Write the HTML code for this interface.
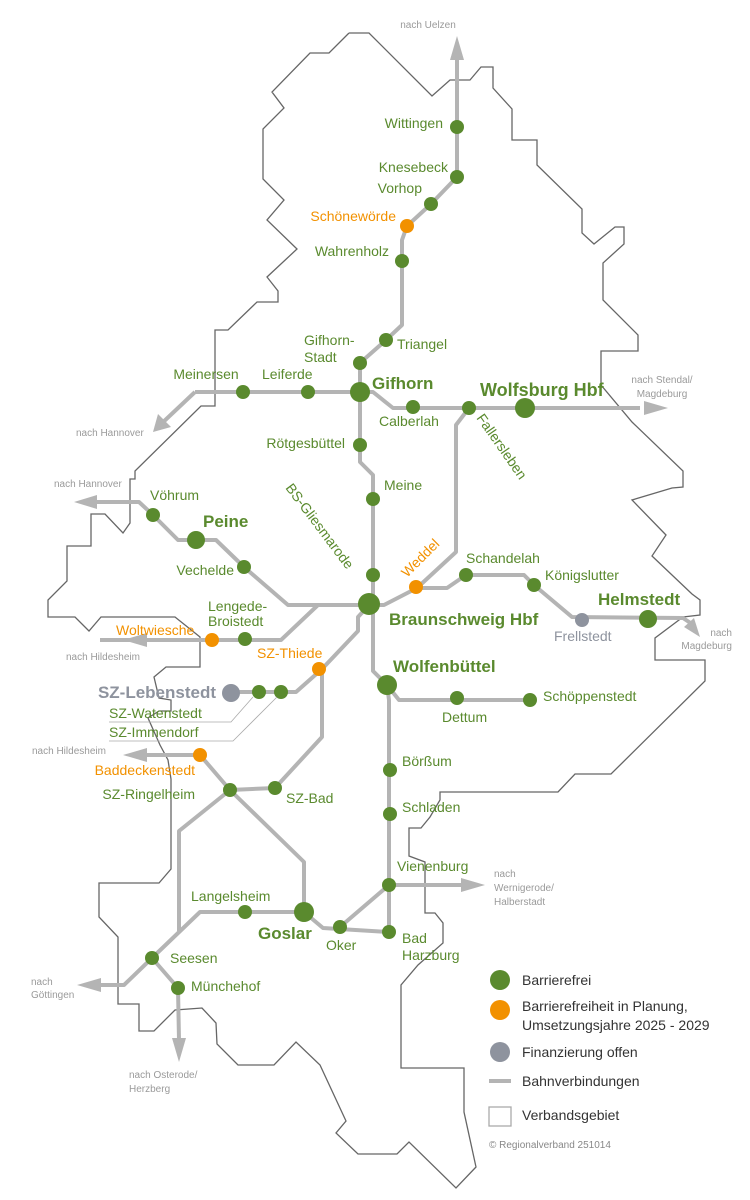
<!DOCTYPE html>
<html><head><meta charset="utf-8"><style>
html,body{margin:0;padding:0;background:#fff}
svg{display:block}
text{font-family:"Liberation Sans Narrow","Liberation Sans",sans-serif}
.g{fill:#5a8a2e}.o{fill:#f29100}.gr{fill:#8e939e}.s{fill:#9a9a9a;font-size:10px}
.t{font-size:14px}.b{font-size:17px;font-weight:bold}
</style></head><body>
<svg width="750" height="1200" viewBox="0 0 750 1200" xmlns="http://www.w3.org/2000/svg">
<!-- border -->
<polyline fill="none" stroke="#666" stroke-width="1.3" points="349,33 369,33 432,96 450,80 470,80 481,67 493,67 493,88 512,109 512,140 537,140 537,165 582,209 582,233 594,244 615,227 624,227 624,244 603,263 603,300 638,335 638,351 601,351 601,385 632,422 683,471 683,487 672,488 632,500 666,535 652,556 692,594 700,600 700,615 683,617 655,638 655,660 705,660 705,681 611,774 575,774 558,792 440,792 440,800 430,817 421,828 409,828 409,856 425,862 425,913 435,913 443,923 443,943 418,965 401,985 401,1068 464,1068 464,1112 476,1167 456,1188 409,1142 397,1154 358,1154 336,1133 346,1121 320,1065 296,1042 274,1065 238,1065 217,1044 216,1023 202,1008 175,1010 154,1031 139,1031 139,1004 118,1004 118,937 99,917 99,883 159,883 171,869 171,779 168,760 160,745 148,718 159,711 171,711 171,700 159,698 154,677 166,667 200,667 200,637 175,617 101,617 89,631 75,617 48,617 48,600 67,581 67,546 91,546 91,514 105,514 123,533 130,523 130,479 135,479 135,471 201,406 215,406 215,330 228,330 257,302 278,302 278,291 267,277 297,249 267,220 284,200 263,179 263,129 284,108 272,92 310,53 329,53 349,33"/>
<!-- rails -->
<g fill="none" stroke="#b4b4b4" stroke-width="4" stroke-linejoin="round">
<polyline points="457,58 457,177 431,204 407,226 402,240 402,325 386,340 360,363 360,392"/>
<polyline points="195,392 360,392 373,392 393,408 640,408"/>
<polyline points="195,392 160,425"/>
<polyline points="469,408 456,425 456,552 417,588 384,605 288,605 244,567 216,540 178,540 153,515 139,502 95,502"/>
<polyline points="360,392 360,462 373,475 373,604"/>
<polyline points="417,588 447,588 466,575 524,575 534,585 572,617 683,618 692,624"/>
<polyline points="100,640 281,640 318,605"/>
<polyline points="231,692 296,692 322,669 358,631 358,617 370,604"/>
<polyline points="322,669 322,737 275,788 230,790 200,755 145,755"/>
<polyline points="230,790 304,862 304,912 323,928 389,932"/>
<polyline points="230,790 179,831 179,931"/>
<polyline points="304,912 200,912 152,958 124,985 97,985"/>
<polyline points="152,958 178,988 179,1040"/>
<polyline points="340,927 389,885 465,885"/>
<polyline points="373,604 373,671 387,685 389,700 389,932"/>
<polyline points="387,685 399,700 530,700"/>
</g>
<!-- arrowheads -->
<g fill="#b4b4b4">
<polygon points="457,36 450,60 464,60"/>
<polygon points="668,408 644,401 644,415"/>
<polygon points="153,432 158,414 171,427"/>
<polygon points="74,502 97,495 97,509"/>
<polygon points="700,637 684,627 694,618"/>
<polygon points="123,640 147,633 147,647"/>
<polygon points="123,755 147,748 147,762"/>
<polygon points="485,885 461,878 461,892"/>
<polygon points="77,985 101,978 101,992"/>
<polygon points="179,1062 172,1038 186,1038"/>
</g>
<!-- nodes -->
<g fill="#5a8a2e">
<circle cx="457" cy="127" r="7"/><circle cx="457" cy="177" r="7"/><circle cx="431" cy="204" r="7"/>
<circle cx="402" cy="261" r="7"/><circle cx="386" cy="340" r="7"/><circle cx="360" cy="363" r="7"/>
<circle cx="360" cy="392" r="10"/><circle cx="243" cy="392" r="7"/><circle cx="308" cy="392" r="7"/>
<circle cx="413" cy="407" r="7"/><circle cx="469" cy="408" r="7"/><circle cx="525" cy="408" r="10"/>
<circle cx="360" cy="445" r="7"/><circle cx="373" cy="499" r="7"/><circle cx="373" cy="575" r="7"/>
<circle cx="369" cy="604" r="11"/><circle cx="153" cy="515" r="7"/><circle cx="196" cy="540" r="9"/>
<circle cx="244" cy="567" r="7"/><circle cx="466" cy="575" r="7"/><circle cx="534" cy="585" r="7"/>
<circle cx="648" cy="619" r="9"/><circle cx="245" cy="639" r="7"/><circle cx="259" cy="692" r="7"/>
<circle cx="281" cy="692" r="7"/><circle cx="387" cy="685" r="10"/><circle cx="457" cy="698" r="7"/>
<circle cx="530" cy="700" r="7"/><circle cx="390" cy="770" r="7"/><circle cx="390" cy="814" r="7"/>
<circle cx="389" cy="885" r="7"/><circle cx="389" cy="932" r="7"/><circle cx="340" cy="927" r="7"/>
<circle cx="304" cy="912" r="10"/><circle cx="245" cy="912" r="7"/><circle cx="275" cy="788" r="7"/>
<circle cx="230" cy="790" r="7"/><circle cx="152" cy="958" r="7"/><circle cx="178" cy="988" r="7"/>
<circle cx="500" cy="980" r="10"/>
</g>
<g fill="#f29100">
<circle cx="407" cy="226" r="7"/><circle cx="416" cy="587" r="7"/><circle cx="212" cy="640" r="7"/>
<circle cx="319" cy="669" r="7"/><circle cx="200" cy="755" r="7"/><circle cx="500" cy="1010" r="10"/>
</g>
<g fill="#8e939e"><circle cx="582" cy="620" r="7"/><circle cx="231" cy="693" r="9"/><circle cx="500" cy="1052" r="10"/></g>
<!-- leader lines -->
<polyline fill="none" stroke="#aaa" stroke-width="0.8" points="109,722 231,722 253,697"/>
<polyline fill="none" stroke="#aaa" stroke-width="0.8" points="109,741 233,741 277,697"/>
<!-- labels -->
<g class="g t">
<text x="443" y="128" text-anchor="end">Wittingen</text>
<text x="448" y="172" text-anchor="end">Knesebeck</text>
<text x="422" y="193" text-anchor="end">Vorhop</text>
<text x="389" y="256" text-anchor="end">Wahrenholz</text>
<text x="304" y="345">Gifhorn-</text><text x="304" y="362">Stadt</text>
<text x="397" y="349">Triangel</text>
<text x="206" y="379" text-anchor="middle">Meinersen</text>
<text x="262" y="379">Leiferde</text>
<text x="379" y="426">Calberlah</text>
<text x="476" y="418" transform="rotate(55 476 418)">Fallersleben</text>
<text x="345" y="448" text-anchor="end">Rötgesbüttel</text>
<text x="384" y="490">Meine</text>
<text x="285" y="488" transform="rotate(53 285 488)">BS-Gliesmarode</text>
<text x="150" y="500">Vöhrum</text>
<text x="234" y="575" text-anchor="end">Vechelde</text>
<text x="466" y="563">Schandelah</text>
<text x="545" y="580">Königslutter</text>
<text x="208" y="611">Lengede-</text><text x="208" y="626">Broistedt</text>
<text x="543" y="701">Schöppenstedt</text>
<text x="442" y="722">Dettum</text>
<text x="109" y="718">SZ-Watenstedt</text>
<text x="109" y="737">SZ-Immendorf</text>
<text x="195" y="799" text-anchor="end">SZ-Ringelheim</text>
<text x="286" y="803">SZ-Bad</text>
<text x="402" y="766">Börßum</text>
<text x="402" y="812">Schladen</text>
<text x="397" y="871">Vienenburg</text>
<text x="191" y="901">Langelsheim</text>
<text x="326" y="950">Oker</text>
<text x="402" y="943">Bad</text><text x="402" y="960">Harzburg</text>
<text x="170" y="963">Seesen</text>
<text x="191" y="991">Münchehof</text>
</g>
<g class="o t">
<text x="396" y="221" text-anchor="end">Schönewörde</text>
<text x="407" y="578" transform="rotate(-45 407 578)">Weddel</text>
<text x="116" y="635">Woltwiesche</text>
<text x="257" y="658">SZ-Thiede</text>
<text x="195" y="775" text-anchor="end">Baddeckenstedt</text>
</g>
<g class="g b">
<text x="372" y="389">Gifhorn</text>
<text x="480" y="396" font-size="18">Wolfsburg Hbf</text>
<text x="203" y="527">Peine</text>
<text x="598" y="605">Helmstedt</text>
<text x="389" y="625">Braunschweig Hbf</text>
<text x="393" y="672">Wolfenbüttel</text>
<text x="258" y="939">Goslar</text>
</g>
<text x="216" y="698" text-anchor="end" class="b" fill="#8e939e">SZ-Lebenstedt</text>
<text x="554" y="641" class="t" fill="#8e939e">Frellstedt</text>
<g class="s">
<text x="428" y="28" text-anchor="middle">nach Uelzen</text>
<text x="662" y="383" text-anchor="middle">nach Stendal/</text><text x="662" y="397" text-anchor="middle">Magdeburg</text>
<text x="76" y="436">nach Hannover</text>
<text x="54" y="487">nach Hannover</text>
<text x="66" y="660">nach Hildesheim</text>
<text x="732" y="636" text-anchor="end">nach</text><text x="732" y="649" text-anchor="end">Magdeburg</text>
<text x="32" y="754">nach Hildesheim</text>
<text x="494" y="877">nach</text><text x="494" y="891">Wernigerode/</text><text x="494" y="905">Halberstadt</text>
<text x="31" y="985">nach</text><text x="31" y="998">Göttingen</text>
<text x="129" y="1078">nach Osterode/</text><text x="129" y="1092">Herzberg</text>
</g>
<!-- legend -->
<line x1="489" y1="1081" x2="511" y2="1081" stroke="#b4b4b4" stroke-width="4"/>
<rect x="489" y="1107" width="22" height="19" fill="#fff" stroke="#aaa" stroke-width="1.3"/>
<g font-size="14" fill="#333">
<text x="522" y="985">Barrierefrei</text>
<text x="522" y="1011">Barrierefreiheit in Planung,</text>
<text x="522" y="1030">Umsetzungsjahre 2025 - 2029</text>
<text x="522" y="1057">Finanzierung offen</text>
<text x="522" y="1086">Bahnverbindungen</text>
<text x="522" y="1120">Verbandsgebiet</text>
</g>
<text x="489" y="1148" font-size="10" fill="#888">© Regionalverband 251014</text>
</svg>
</body></html>
